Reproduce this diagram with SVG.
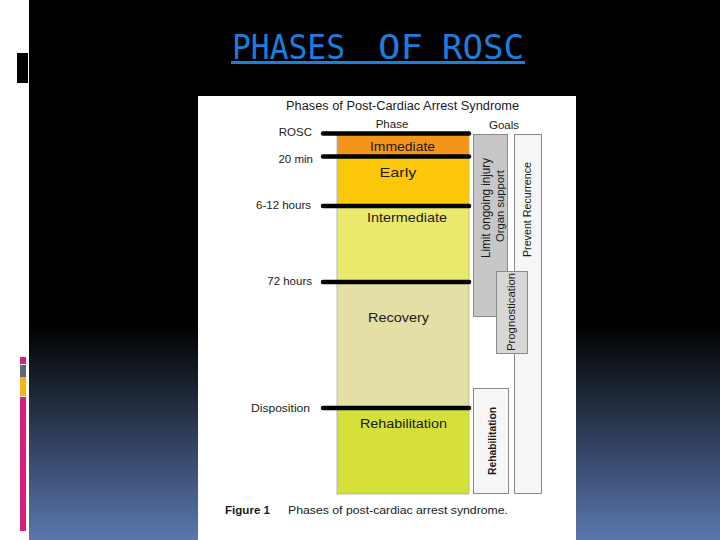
<svg xmlns="http://www.w3.org/2000/svg" width="720" height="540" viewBox="0 0 720 540">
  <defs>
    <linearGradient id="bg" x1="0" y1="0" x2="0" y2="1">
      <stop offset="0" stop-color="#000000"/>
      <stop offset="0.6" stop-color="#000000"/>
      <stop offset="1" stop-color="#5a77ac"/>
    </linearGradient>
  </defs>
  <style>
    .t{font-family:"Liberation Sans",Arial,sans-serif;fill:#1a1a1a}
    .lbl{font-size:11.5px;text-anchor:end}
    .ph{font-size:13px;text-anchor:middle}
    .vt{text-anchor:middle}
    .tick{stroke:#000;stroke-width:4.5;stroke-linecap:round}
    .band{stroke:#b0b0a0;stroke-width:0.8}
    .goal{stroke:#8a8a8a;stroke-width:1}
  </style>
  <rect x="0" y="0" width="720" height="540" fill="#ffffff"/>
  <rect x="29" y="0" width="691" height="540" fill="url(#bg)"/>
  <g id="decor">
    <rect x="17" y="53" width="11" height="30" fill="#000"/>
    <rect x="20" y="357" width="6" height="7" fill="#d91d7b"/>
    <rect x="20" y="365" width="6" height="12" fill="#5d6876"/>
    <rect x="20" y="377" width="6" height="19" fill="#f8b31c"/>
    <rect x="20" y="397" width="6" height="134" fill="#d91d7b"/>
  </g>
  <g id="title" font-family="'DejaVu Sans Mono','Liberation Mono',monospace" font-size="34" fill="#1d7ddb">
    <text x="232" y="59" textLength="113" lengthAdjust="spacingAndGlyphs">PHASES</text>
    <text x="378" y="59" textLength="45" lengthAdjust="spacingAndGlyphs">OF</text>
    <text x="442" y="59" textLength="82" lengthAdjust="spacingAndGlyphs">ROSC</text>
    <rect x="231" y="61" width="294" height="3"/>
  </g>
  <rect id="figure-bg" x="198" y="96" width="378" height="444" fill="#ffffff"/>
  <text class="t" x="286" y="110" font-size="12.5" textLength="233" lengthAdjust="spacingAndGlyphs">Phases of Post-Cardiac Arrest Syndrome</text>
  <text class="t" x="392" y="128" font-size="11.5" text-anchor="middle">Phase</text>
  <text class="t" x="504" y="129" font-size="11.5" text-anchor="middle">Goals</text>

  <g id="immediate">
    <rect class="band" x="337" y="135" width="132" height="21" fill="#f5941c"/>
    <text class="t ph" x="402.5" y="151" textLength="65" lengthAdjust="spacingAndGlyphs">Immediate</text>
  </g>
  <g id="early">
    <rect class="band" x="337" y="156" width="132" height="50" fill="#fec80a"/>
    <text class="t ph" x="398" y="177" textLength="37" lengthAdjust="spacingAndGlyphs">Early</text>
  </g>
  <g id="intermediate">
    <rect class="band" x="337" y="206" width="132" height="76" fill="#ecea6c"/>
    <text class="t ph" x="407" y="222" textLength="80" lengthAdjust="spacingAndGlyphs">Intermediate</text>
  </g>
  <g id="recovery">
    <rect class="band" x="337" y="282" width="132" height="126" fill="#e4e0a5"/>
    <text class="t ph" x="398.5" y="322" textLength="61" lengthAdjust="spacingAndGlyphs">Recovery</text>
  </g>
  <g id="rehabilitation">
    <rect class="band" x="337" y="408" width="132" height="86" fill="#d5e03a"/>
    <text class="t ph" x="403.5" y="428" textLength="87" lengthAdjust="spacingAndGlyphs">Rehabilitation</text>
  </g>

  <g id="connectors">
    <line class="tick" x1="323" y1="133.5" x2="469" y2="133.5"/>
    <line class="tick" x1="323" y1="156.5" x2="469" y2="156.5"/>
    <line class="tick" x1="323" y1="206" x2="469" y2="206"/>
    <line class="tick" x1="323" y1="282" x2="469" y2="282"/>
    <line class="tick" x1="323" y1="408" x2="469" y2="408"/>
  </g>

  <g id="time-labels">
    <text class="t lbl" x="312" y="136">ROSC</text>
    <text class="t lbl" x="313" y="163">20 min</text>
    <text class="t lbl" x="311" y="209">6-12 hours</text>
    <text class="t lbl" x="312" y="285">72 hours</text>
    <text class="t lbl" x="310" y="412" textLength="59" lengthAdjust="spacingAndGlyphs">Disposition</text>
  </g>

  <g id="goal-prevent">
    <rect class="goal" x="514.5" y="134.5" width="27" height="359" fill="#f6f6f6"/>
    <text class="t vt" transform="translate(531,209.5) rotate(-90)" font-size="10.5" textLength="95" lengthAdjust="spacingAndGlyphs">Prevent Recurrence</text>
  </g>
  <g id="goal-limit">
    <rect class="goal" x="473.5" y="134.5" width="34" height="182" fill="#c7c7c7"/>
    <text class="t vt" transform="translate(490,208) rotate(-90)" font-size="12" textLength="100" lengthAdjust="spacingAndGlyphs">Limit ongoing injury</text>
    <text class="t vt" transform="translate(504,206) rotate(-90)" font-size="10.5" textLength="72" lengthAdjust="spacingAndGlyphs">Organ support</text>
  </g>
  <g id="goal-prognostication">
    <rect class="goal" x="496.5" y="271.5" width="31" height="82" fill="#d7d7d7"/>
    <text class="t vt" transform="translate(514.5,312) rotate(-90)" font-size="11.3" textLength="78" lengthAdjust="spacingAndGlyphs">Prognostication</text>
  </g>
  <g id="goal-rehabilitation">
    <rect class="goal" x="473.5" y="388.5" width="35" height="105" fill="#f6f6f6"/>
    <text class="t vt" transform="translate(495.5,441) rotate(-90)" font-size="11.5" font-weight="bold" textLength="68" lengthAdjust="spacingAndGlyphs">Rehabilitation</text>
  </g>

  <g id="caption">
    <text class="t" x="225" y="514" font-size="11" font-weight="bold" textLength="45" lengthAdjust="spacingAndGlyphs">Figure 1</text>
    <text class="t" x="288" y="514" font-size="11" textLength="220" lengthAdjust="spacingAndGlyphs">Phases of post-cardiac arrest syndrome.</text>
  </g>
</svg>
